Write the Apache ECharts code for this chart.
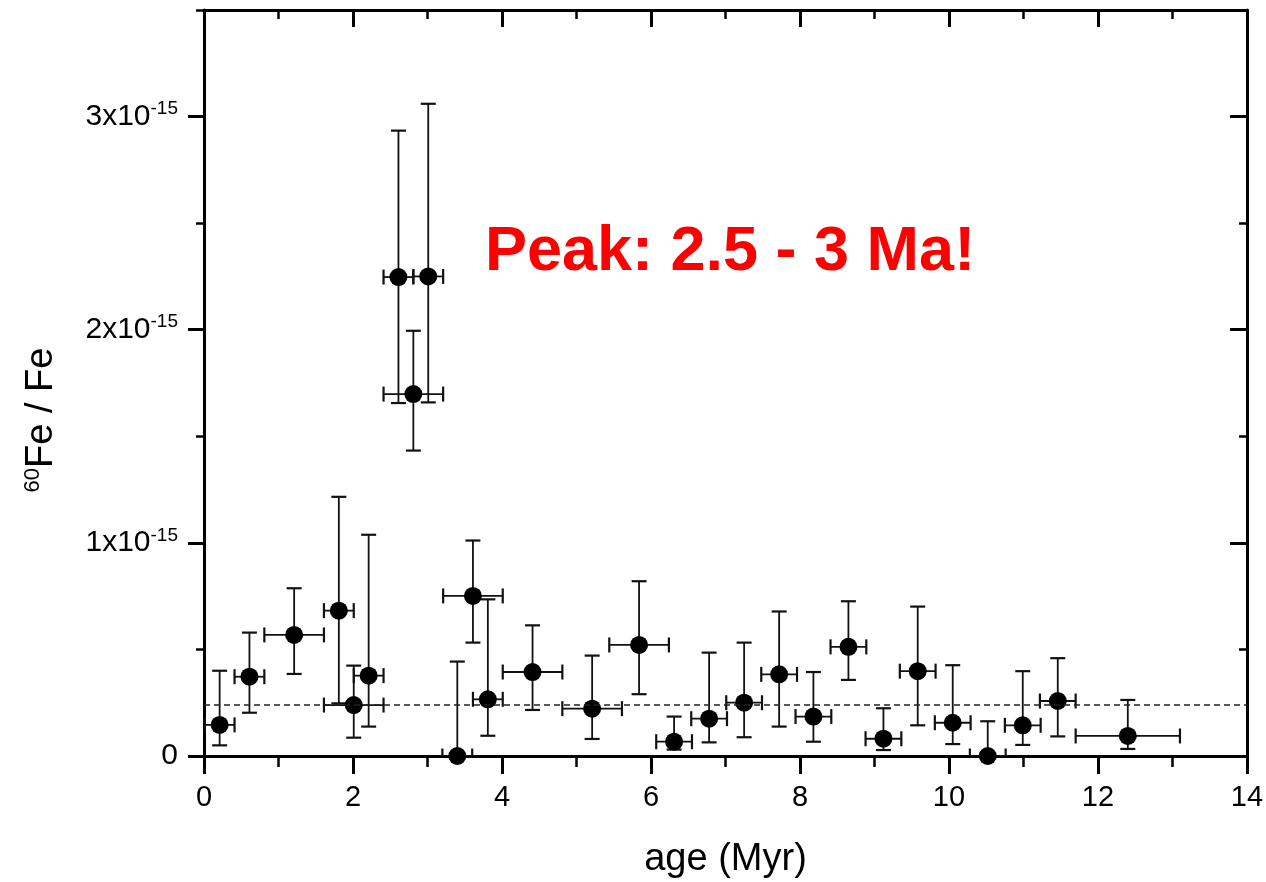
<!DOCTYPE html>
<html>
<head>
<meta charset="utf-8">
<title>60Fe / Fe vs age</title>
<script src="https://cdn.jsdelivr.net/npm/echarts@6/dist/echarts.min.js"></script>
<style>
  html, body { margin: 0; padding: 0; background: #fff; }
  #chart { width: 1266px; height: 882px; }
</style>
</head>
<body>
<div id="chart"></div>
<script>
// values in units of 1e-15 (y) and Myr (x)
var ages = [0.21, 0.61, 1.21, 1.81, 2.01, 2.21, 2.61, 2.81, 3.01, 3.40, 3.61, 3.81, 4.41, 5.21,
            5.84, 6.31, 6.78, 7.25, 7.72, 8.18, 8.65, 9.12, 9.58, 10.05, 10.52, 10.99, 11.46, 12.40];
var ratio = [0.146, 0.372, 0.568, 0.682, 0.239, 0.377, 2.247, 1.698, 2.250, 0.0, 0.751, 0.266, 0.394, 0.222,
             0.521, 0.067, 0.175, 0.250, 0.383, 0.185, 0.512, 0.081, 0.398, 0.156, 0.0, 0.144, 0.258, 0.094];
var ratioLow = [0.050, 0.203, 0.385, 0.247, 0.086, 0.138, 1.656, 1.433, 1.659, 0.0, 0.532, 0.095, 0.216, 0.080,
                0.290, 0.030, 0.064, 0.088, 0.138, 0.067, 0.357, 0.028, 0.144, 0.056, 0.0, 0.052, 0.092, 0.033];
var ratioHigh = [0.400, 0.579, 0.787, 1.216, 0.424, 1.038, 2.934, 1.995, 3.060, 0.443, 1.011, 0.735, 0.613, 0.471,
                 0.820, 0.185, 0.485, 0.532, 0.678, 0.394, 0.726, 0.224, 0.701, 0.426, 0.163, 0.398, 0.459, 0.263];
var ageErr = [0.2, 0.2, 0.4, 0.2, 0.4, 0.2, 0.2, 0.4, 0.2, 0.2, 0.4, 0.2, 0.4, 0.4,
              0.4, 0.24, 0.24, 0.24, 0.24, 0.24, 0.24, 0.24, 0.24, 0.24, 0.24, 0.24, 0.24, 0.7];
var meanLevel = 0.24;
var yMajorTicks = [0, 1, 2, 3];
var yMinorTicks = [0.5, 1.5, 2.5, 3.5];

var FONT = '"Liberation Sans", Arial, Helvetica, sans-serif';

var points = ages.map(function (a, i) { return [a, ratio[i]]; });
var bars = ages.map(function (a, i) { return [a, ratio[i], ageErr[i], ratioLow[i], ratioHigh[i]]; });

// error bars (x and y, with caps)
function renderErr(params, api) {
  var x = api.value(0), y = api.value(1), xe = api.value(2), lo = api.value(3), hi = api.value(4);
  var top = api.coord([x, hi]);
  var bot = api.coord([x, lo]);
  var left = api.coord([x - xe, y]);
  var right = api.coord([x + xe, y]);
  var cap = 7.5;
  var st = { stroke: '#111', lineWidth: 1.8 };
  var capSt = { stroke: '#111', lineWidth: 2.2 };
  return {
    type: 'group',
    children: [
      { type: 'line', shape: { x1: top[0], y1: top[1], x2: bot[0], y2: bot[1] }, style: st },
      { type: 'line', shape: { x1: top[0] - cap, y1: top[1], x2: top[0] + cap, y2: top[1] }, style: capSt },
      { type: 'line', shape: { x1: bot[0] - cap, y1: bot[1], x2: bot[0] + cap, y2: bot[1] }, style: capSt },
      { type: 'line', shape: { x1: left[0], y1: left[1], x2: right[0], y2: right[1] }, style: st },
      { type: 'line', shape: { x1: left[0], y1: left[1] - cap, x2: left[0], y2: left[1] + cap }, style: capSt },
      { type: 'line', shape: { x1: right[0], y1: right[1] - cap, x2: right[0], y2: right[1] + cap }, style: capSt }
    ]
  };
}

function yLabel(v) {
  if (v === 0) return '0';
  return '{b|' + v + 'x10}{s|-15}';
}

// onZero off, otherwise the top/right frame lines jump to 0
var axisLine = { show: true, onZero: false, lineStyle: { color: '#000', width: 3 } };
var noLine = { show: false, onZero: false };

var option = {
  animation: false,
  backgroundColor: '#fff',
  grid: { left: 204, top: 10, right: 19, bottom: 126, containLabel: false, outerBoundsMode: 'none' },
  xAxis: [
    {
      type: 'value', position: 'bottom', min: 0, max: 14, interval: 2,
      name: 'age (Myr)', nameLocation: 'middle', nameGap: 85,
      nameTextStyle: { fontFamily: FONT, fontSize: 38, color: '#000' },
      axisLine: axisLine,
      axisTick: { show: true, inside: false, length: 18, lineStyle: { color: '#000', width: 3 } },
      minorTick: { show: true, splitNumber: 2, length: 11, lineStyle: { color: '#000', width: 2.5 } },
      axisLabel: { fontFamily: FONT, fontSize: 29, color: '#000', margin: 27 },
      splitLine: { show: false }
    },
    {
      type: 'value', position: 'top', min: 0, max: 14, interval: 2,
      axisLine: axisLine,
      axisTick: { show: true, inside: true, length: 17, lineStyle: { color: '#000', width: 3 } },
      minorTick: { show: true, splitNumber: 2, length: 9, lineStyle: { color: '#000', width: 2.5 } },
      axisLabel: { show: false },
      splitLine: { show: false }
    }
  ],
  yAxis: [
    {
      type: 'value', position: 'left', min: 0, max: 3.5, interval: 0.5,
      name: '{sup|60}{m|Fe / Fe}', nameLocation: 'middle', nameGap: 142,
      nameTextStyle: {
        padding: [0, 74, 0, 0],   // pushes the rotated title down a bit
        rich: {
          sup: { fontFamily: FONT, fontSize: 22, color: '#000', verticalAlign: 'top', lineHeight: 40 },
          m: { fontFamily: FONT, fontSize: 38, color: '#000', lineHeight: 40 }
        }
      },
      axisLine: axisLine,
      axisTick: { show: true, inside: false, length: 16, customValues: yMajorTicks, lineStyle: { color: '#000', width: 3 } },
      axisLabel: {
        customValues: yMajorTicks, margin: 26, formatter: yLabel,
        fontFamily: FONT, fontSize: 30, color: '#000',
        rich: {
          b: { fontFamily: FONT, fontSize: 30, color: '#000', lineHeight: 34 },
          s: { fontFamily: FONT, fontSize: 19, color: '#000', verticalAlign: 'top', lineHeight: 34 }
        }
      },
      splitLine: { show: false }
    },
    {
      // minor ticks on the left
      type: 'value', position: 'left', min: 0, max: 3.5, interval: 0.5,
      axisLine: noLine,
      axisTick: { show: true, inside: false, length: 8, customValues: yMinorTicks, lineStyle: { color: '#000', width: 2.5 } },
      axisLabel: { show: false },
      splitLine: { show: false }
    },
    {
      type: 'value', position: 'right', min: 0, max: 3.5, interval: 0.5,
      axisLine: axisLine,
      axisTick: { show: true, inside: true, length: 17, customValues: yMajorTicks, lineStyle: { color: '#000', width: 3 } },
      axisLabel: { show: false },
      splitLine: { show: false }
    },
    {
      type: 'value', position: 'right', min: 0, max: 3.5, interval: 0.5,
      axisLine: noLine,
      axisTick: { show: true, inside: true, length: 8, customValues: yMinorTicks, lineStyle: { color: '#000', width: 2.5 } },
      axisLabel: { show: false },
      splitLine: { show: false }
    }
  ],
  graphic: [
    {
      type: 'text', x: 730, y: 253, z: 10,
      style: {
        text: 'Peak: 2.5 - 3 Ma!', fill: '#ff0000',
        font: 'bold 63px ' + FONT, textAlign: 'center', textVerticalAlign: 'middle'
      }
    }
  ],
  series: [
    {
      type: 'custom', name: 'err', xAxisIndex: 0, yAxisIndex: 0,
      renderItem: renderErr, data: bars, clip: true, z: 2,
      encode: { x: 0, y: 1 }, silent: true
    },
    {
      type: 'scatter', name: '60Fe/Fe', xAxisIndex: 0, yAxisIndex: 0,
      data: points, symbol: 'circle', symbolSize: 18, clip: true, z: 3,
      itemStyle: { color: '#000', opacity: 1 },
      markLine: {
        silent: true, symbol: 'none', label: { show: false },
        lineStyle: { color: '#222', type: [6, 4], width: 1.6 },
        data: [{ yAxis: meanLevel }]
      }
    }
  ]
};

var chart = echarts.init(document.getElementById('chart'));
chart.setOption(option);
</script>
</body>
</html>
